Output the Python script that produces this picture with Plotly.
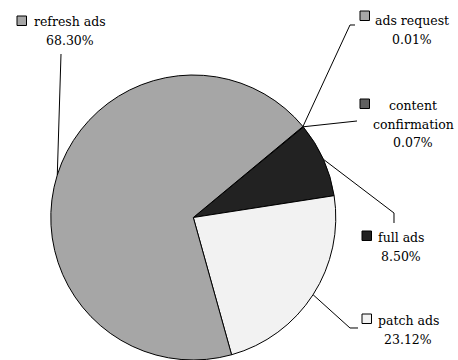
import math
import plotly.graph_objects as go

# Share of each ad event type
labels = ["ads request", "content confirmation", "full ads", "patch ads", "refresh ads"]
values = [0.01, 0.07, 8.50, 23.12, 68.30]
pct_text = ["0.01%", "0.07%", "8.50%", "23.12%", "68.30%"]
colors = ["#a6a6a6", "#606060", "#222222", "#f2f2f2", "#a6a6a6"]
label_lines = [["ads request"], ["content", "confirmation"], ["full ads"], ["patch ads"], ["refresh ads"]]

W, H = 458, 360
CX, CY, R = 193.3, 217.5, 142.5   # pie centre and radius in pixels
ROTATION = 50.3                    # start angle, clockwise from 12 o'clock

# label column centre x and first-row y (px), legend-box top-left (px),
# leader polyline after the pie edge (px)
label_pos = [(412, 20), (413, 105), (401, 237), (408, 320), (69.5, 21)]
ROW_STEP = 19
box_pos = [(360, 11), (360, 99), (362, 231), (362, 314), (17, 16)]
leader_pts = [
    [(350, 25), (355, 25)],
    [(357, 121)],
    [(394, 213), (394, 223)],
    [(350, 328), (358, 328)],
    [(61, 54)],
]

FONT = "DejaVu Serif"
FS = 12.5


def px(x):
    return x / W


def py(y):
    return 1 - y / H


fig = go.Figure(go.Pie(
    labels=labels,
    values=values,
    sort=False,
    direction="clockwise",
    rotation=ROTATION,
    textinfo="none",
    hoverinfo="label+percent",
    marker=dict(colors=colors, line=dict(color="#000000", width=1)),
    domain=dict(x=[px(CX - R), px(CX + R)], y=[py(CY + R), py(CY - R)]),
    showlegend=False,
))

total = sum(values)
shapes = []
annotations = []
cum = 0.0
for i, v in enumerate(values):
    mid = math.radians(ROTATION + 360 * (cum + v / 2) / total)
    cum += v
    sx = CX + R * math.sin(mid)
    sy = CY - R * math.cos(mid)
    pts = [(sx, sy)] + leader_pts[i]
    path = "M " + " L ".join(f"{px(x):.5f},{py(y):.5f}" for x, y in pts)
    shapes.append(dict(type="path", path=path, xref="paper", yref="paper",
                       line=dict(color="#000000", width=1)))
    bx, by = box_pos[i]
    shapes.append(dict(type="rect", xref="paper", yref="paper",
                       x0=px(bx), x1=px(bx + 9.5), y0=py(by + 9.5), y1=py(by),
                       fillcolor=colors[i], line=dict(color="#000000", width=1)))
    lx, ly = label_pos[i]
    for k, line in enumerate(label_lines[i] + [pct_text[i]]):
        annotations.append(dict(
            x=px(lx), y=py(ly + k * ROW_STEP), xref="paper", yref="paper",
            text=line, showarrow=False, xanchor="center", yanchor="middle",
            font=dict(family=FONT, size=FS, color="#000000"),
        ))

fig.update_layout(
    width=W, height=H,
    margin=dict(l=0, r=0, t=0, b=0),
    paper_bgcolor="#ffffff",
    plot_bgcolor="#ffffff",
    shapes=shapes,
    annotations=annotations,
)

fig.write_html("out.html")
